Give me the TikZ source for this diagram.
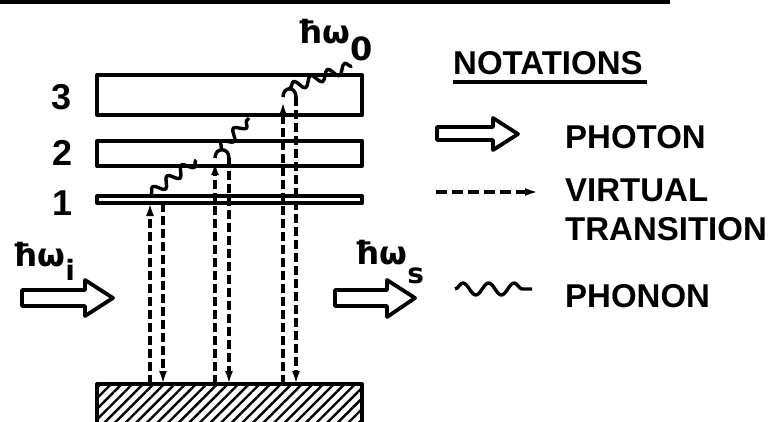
\documentclass[tikz,border=0pt]{standalone}
\usepackage{fontspec}
\setmainfont{Liberation Sans}
\newfontfamily\hfont{DejaVu Sans}
\usetikzlibrary{arrows.meta,decorations.pathmorphing,patterns.meta}
\begin{document}
\begin{tikzpicture}[x=1pt,y=-1pt,line join=round,
  levelbox/.style={draw,line width=4pt,inner sep=0pt,outer sep=0pt,minimum width=265pt},
  vdash/.style={line width=4.2pt,dash pattern=on 9pt off 4pt},
  vtip/.style={-{Latex[length=13pt,width=8pt]}},
  phonon/.style={line width=3.4pt,decorate,decoration={snake,segment length=18pt,amplitude=5pt}},
  photon/.style={draw,line width=3.8pt,line join=round},
  lbl/.style={font=\bfseries\fontsize{33}{33}\selectfont,inner sep=0pt,anchor=base west},
  num/.style={font=\bfseries\fontsize{36}{36}\selectfont,inner sep=0pt},
  hlab/.style={font=\hfont\bfseries\fontsize{32}{32}\selectfont,inner sep=0pt,anchor=base west}]
\useasboundingbox (0,0) rectangle (780,421);
\begin{scope}
\clip (0,0) rectangle (780,421);
% top rule
\coordinate (r0) at (0,2);
\coordinate (r1) at (670,2);
\draw[line width=4.5pt] (r0) -- (r1);
% levels
\node[levelbox,minimum height=40pt] (L3) at (229.5,95) {};
\node[levelbox,minimum height=25pt] (L2) at (229.5,153.5) {};
\node[levelbox,minimum height=7pt] (L1) at (229.5,199.5) {};
\node[levelbox,minimum height=60pt,anchor=north west,
      pattern={Lines[angle=45,distance=7.5pt,line width=2.4pt]}] (G) at (97,384) {};
\node[num] (n3) at (62,97) {3};
\node[num] (n2) at (63,153) {2};
\node[num] (n1) at (63,203) {1};
% transition coordinates
\coordinate (g1) at (150,384); \coordinate (t1) at (150,203);
\coordinate (d1) at (163,203); \coordinate (h1) at (163,384);
\coordinate (g2) at (215,384); \coordinate (t2) at (215,162);
\coordinate (a2) at (215,158); \coordinate (d2) at (229,158); \coordinate (h2) at (229,384);
\coordinate (g3) at (283,384); \coordinate (t3) at (283,102);
\coordinate (a3) at (283,97); \coordinate (d3) at (296,97); \coordinate (h3) at (296,384);
\draw[vdash,vtip] (g1) -- (t1);
\draw[vdash,vtip] (d1) -- (h1);
\draw[vdash,vtip] (g2) -- (t2);
\draw[line width=3.4pt] (a2) .. controls (215,147) and (229,147) .. (d2);
\draw[vdash,vtip] (d2) -- (h2);
\draw[vdash,vtip] (g3) -- (t3);
\draw[line width=3.4pt] (a3) .. controls (283,86) and (296,86) .. (d3);
\draw[vdash,vtip] (d3) -- (h3);
% phonons
\coordinate (p1s) at (151,194); \coordinate (p1e) at (196,160);
\coordinate (p2s) at (221,149); \coordinate (p2e) at (249,118);
\coordinate (p3s) at (290,88); \coordinate (p3e) at (352,66);
\draw[phonon] (p1s) -- (p1e);
\draw[phonon] (p2s) -- (p2e);
\draw[phonon] (p3s) -- (p3e);
% photon labels
\node[hlab] (w0) at (297,43) {ħω\raisebox{-17pt}{0}};
\node[hlab] (wi) at (12,266) {ħω\raisebox{-14pt}{\fontsize{28}{28}\selectfont i}};
\node[hlab] (ws) at (354,264) {ħω\raisebox{-19pt}{\fontsize{28}{28}\selectfont s}};
% photon arrows
\draw[photon] (22,290) -- (85,290) -- (85,280) -- (113,298) -- (85,316) -- (85,306) -- (22,306) -- cycle;
\draw[photon] (335,290) -- (387,290) -- (387,280) -- (415,298) -- (387,317) -- (387,306) -- (335,306) -- cycle;
% legend
\node[lbl] (nt) at (453,74) {NOTATIONS};
\coordinate (u0) at (453,82); \coordinate (u1) at (647,82);
\draw[line width=3.5pt] (u0) -- (u1);
\draw[photon] (437,127) -- (493,127) -- (493,118) -- (518,134) -- (493,150) -- (493,140) -- (437,140) -- cycle;
\node[lbl] (ph) at (565,148) {PHOTON};
\coordinate (v0) at (436,192); \coordinate (v1) at (538,192);
\draw[line width=4.2pt,dash pattern=on 11pt off 5pt,-{Latex[length=13pt,width=8pt]}] (v0) -- (v1);
\node[lbl] (vt) at (565,201) {VIRTUAL};
\node[lbl] (tr) at (565,240) {TRANSITION};
\coordinate (w0a) at (455,289); \coordinate (w0b) at (532,289);
\draw[line width=3.4pt,decorate,decoration={snake,segment length=25.6pt,amplitude=6pt}] (w0a) -- (w0b);
\node[lbl] (pn) at (565,307) {PHONON};
\end{scope}
\end{tikzpicture}
\end{document}
